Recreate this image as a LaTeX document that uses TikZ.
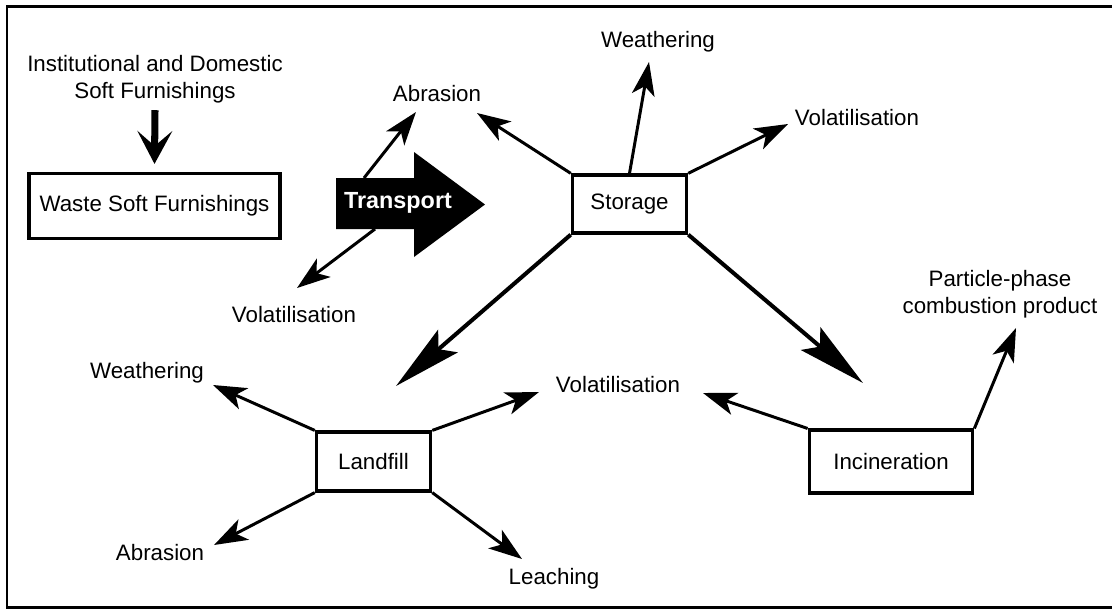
\documentclass[tikz,border=0pt]{standalone}
\usepackage{fontspec}
\setmainfont{Liberation Sans}
\usepackage{tikz}
\usetikzlibrary{arrows.meta}

\begin{document}
\begin{tikzpicture}[x=0.02cm,y=-0.02cm,
  every node/.style={font=\fontsize{12.7}{15.3}\selectfont, inner sep=0pt},
  stage/.style 2 args={draw, line width=1.9pt, minimum width=#1, minimum height=#2},
  flow/.style={-{Stealth[length=19pt,width=13pt,inset=5pt]}, line width=1.7pt},
  bigflow/.style={-{Stealth[length=39pt,width=17pt,inset=7pt]}, line width=2.3pt},
  feedarrow/.style={-{Stealth[length=18.7pt,width=19.8pt,inset=8.5pt]}, line width=4pt}]
  \useasboundingbox (0,0) rectangle (1112,610);
  \draw[line width=1.4pt] (1112,6.5) -- (7,6.5) -- (7,607.5) -- (1112,607.5);

  \node (inst) [align=center] at (155,79) {Institutional and Domestic\\Soft Furnishings};
  \node[stage={143pt}{37pt}] (waste) at (154.5,206) {Waste Soft Furnishings};
  \draw[feedarrow] ([yshift=-4pt]inst.south) -- ([yshift=4.5pt]waste.north);

  % transport
  \path[fill=black] (336,178) -- (414,178) -- (414,152) -- (485,204.5) -- (414,257) -- (414,229) -- (336,229) -- cycle;
  \node[text=white, font=\bfseries\fontsize{13.3}{16}\selectfont] (transport) at (398,203) {Transport};
  \coordinate (trA) at (364,178);
  \coordinate (trB) at (375,229);

  \node[stage={65pt}{33pt}] (storage) at (629.5,204) {Storage};
  \node[stage={65pt}{33.5pt}] (landfill) at (373.5,461.5) {Landfill};
  \node[stage={93pt}{35.7pt}] (incin) at (891,461.5) {Incineration};

  \node (abrA) at (437,94) {Abrasion};
  \node (volA) at (294,315) {Volatilisation};
  \node (weaA) at (658,42) {Weathering};
  \node (volB) at (857,118) {Volatilisation};
  \node (part) [align=center] at (1000,294) {Particle-phase\\combustion product};
  \node (volC) at (618,385) {Volatilisation};
  \node (weaB) at (147,373) {Weathering};
  \node (abrB) at (160,553) {Abrasion};
  \node (leach) at (554,579) {Leaching};

  \coordinate (tAbrA1) at (416,112);
  \coordinate (tVolA) at (297,288);
  \coordinate (tAbrA2) at (477,113);
  \coordinate (tWeaA) at (649,62);
  \coordinate (tVolB) at (788,124);
  \coordinate (tLand) at (396,386);
  \coordinate (tInc) at (863,383);
  \coordinate (tWeaB) at (213,385);
  \coordinate (tVolC1) at (539,392);
  \coordinate (tAbrB) at (214,545);
  \coordinate (tLeach) at (522,559);
  \coordinate (tVolC2) at (703,393);
  \coordinate (tPart) at (1016,328);

  \draw[flow] (trA) -- (tAbrA1);
  \draw[flow] (trB) -- (tVolA);
  \draw[flow] (storage.north west) -- (tAbrA2);
  \draw[flow] (storage.north) -- (tWeaA);
  \draw[flow] (storage.north east) -- (tVolB);
  \draw[bigflow] (storage.south west) -- (tLand);
  \draw[bigflow] (storage.south east) -- (tInc);
  \draw[flow] (landfill.north west) -- (tWeaB);
  \draw[flow] (landfill.north east) -- (tVolC1);
  \draw[flow] (landfill.south west) -- (tAbrB);
  \draw[flow] (landfill.south east) -- (tLeach);
  \draw[flow] (incin.north west) -- (tVolC2);
  \draw[flow] (incin.north east) -- (tPart);
\end{tikzpicture}
\end{document}
